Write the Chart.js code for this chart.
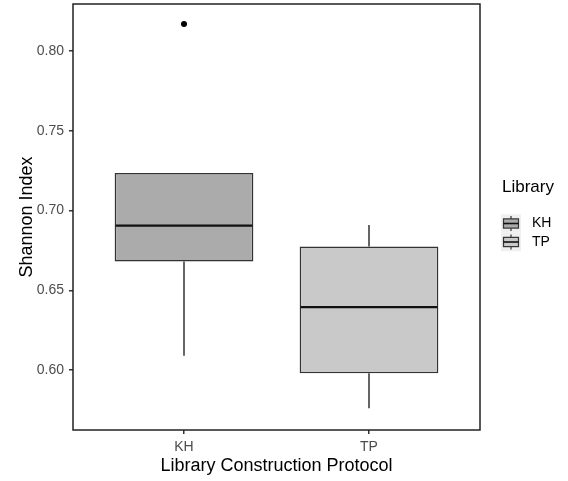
<!DOCTYPE html>
<html><head><meta charset="utf-8">
<script src="https://cdn.jsdelivr.net/npm/chart.js@4"></script>
<style>html,body{margin:0;padding:0;background:#fff}#wrap{width:568px;height:481px}</style>
</head><body><div id="wrap"><canvas id="c" width="568" height="481"></canvas></div>
<script>
// ---- data ----
const categories = ['KH', 'TP'];
const whiskerLow = [0.609, 0.576];
const q1 = [0.668, 0.598];
const median = [0.6905, 0.6395];
const q3 = [0.7235, 0.6775];
const whiskerHigh = [0.7235, 0.691];
const outlierCategory = ['KH'];
const outlierValue = [0.817];
const yTicks = [0.60, 0.65, 0.70, 0.75, 0.80];
const yMin = 0.5624, yMax = 0.8295;
const fills = ['#ababab', '#c9c9c9'];
const FONT = "'Liberation Sans', Arial, sans-serif";

Chart.defaults.font.family = FONT;

const boxPlugin = {
  id: 'boxExtras',
  afterDatasetsDraw(chart) {
    const { ctx, scales: { x, y } } = chart;
    const meta = chart.getDatasetMeta(0);
    ctx.save();
    categories.forEach((c, i) => {
      const bar = meta.data[i];
      const cx = x.getPixelForValue(i + 1);
      const half = bar.width / 2;
      ctx.strokeStyle = '#333'; ctx.lineWidth = 1.5;
      ctx.beginPath();
      ctx.moveTo(cx, y.getPixelForValue(q3[i])); ctx.lineTo(cx, y.getPixelForValue(whiskerHigh[i]));
      ctx.moveTo(cx, y.getPixelForValue(q1[i])); ctx.lineTo(cx, y.getPixelForValue(whiskerLow[i]));
      ctx.stroke();
      const ym = y.getPixelForValue(median[i]);
      ctx.strokeStyle = '#111'; ctx.lineWidth = 2.2;
      ctx.beginPath(); ctx.moveTo(cx - half + 1, ym); ctx.lineTo(cx + half - 1, ym); ctx.stroke();
    });
    ctx.restore();
  },
  afterDraw(chart) {
    const { ctx, chartArea: a } = chart;
    ctx.save();
    ctx.strokeStyle = '#222'; ctx.lineWidth = 1.5;
    ctx.strokeRect(a.left, a.top, a.right - a.left, a.bottom - a.top);
    // legend
    ctx.fillStyle = '#000'; ctx.textAlign = 'left'; ctx.textBaseline = 'middle';
    ctx.font = '17px ' + FONT;
    ctx.fillText('Library', 502, 187.5);
    categories.forEach((c, i) => {
      const cy = 223.5 + i * 18.5, kx = 501, kw = 20, kh = 18.5;
      ctx.fillStyle = '#efefef'; ctx.fillRect(kx, cy - kh / 2, kw, kh);
      const cx = kx + kw / 2, bx = kx + kw * 0.125, bw = kw * 0.75;
      const top = cy - kh / 2, bh = kh * 0.5;
      ctx.strokeStyle = '#333'; ctx.lineWidth = 1.2;
      ctx.beginPath();
      ctx.moveTo(cx, top + kh * 0.1); ctx.lineTo(cx, top + kh * 0.25);
      ctx.moveTo(cx, top + kh * 0.75); ctx.lineTo(cx, top + kh * 0.9);
      ctx.stroke();
      ctx.fillStyle = fills[i]; ctx.fillRect(bx, top + kh * 0.25, bw, bh);
      ctx.strokeRect(bx, top + kh * 0.25, bw, bh);
      ctx.lineWidth = 1.6; ctx.strokeStyle = '#111';
      ctx.beginPath(); ctx.moveTo(bx, cy); ctx.lineTo(bx + bw, cy); ctx.stroke();
      ctx.fillStyle = '#000'; ctx.font = '14px ' + FONT;
      ctx.fillText(c, 532, cy);
    });
    ctx.restore();
  }
};

new Chart(document.getElementById('c'), {
  type: 'bar',
  data: {
    datasets: [
      {
        type: 'bar',
        data: categories.map((c, i) => ({ x: i + 1, y: [q1[i], q3[i]] })),
        backgroundColor: fills,
        borderColor: '#333',
        borderWidth: 1.5,
        borderSkipped: false,
        barPercentage: 0.75,
        categoryPercentage: 1
      },
      {
        type: 'scatter',
        data: outlierValue.map((v, i) => ({ x: categories.indexOf(outlierCategory[i]) + 1, y: v })),
        backgroundColor: '#000',
        borderColor: '#000',
        pointRadius: 3,
        borderWidth: 0
      }
    ]
  },
  plugins: [boxPlugin],
  options: {
    responsive: false,
    animation: false,
    layout: { padding: { top: 4, right: 88, left: 0, bottom: 0 } },
    plugins: { legend: { display: false }, tooltip: { enabled: false } },
    scales: {
      x: {
        type: 'linear', min: 0.4, max: 2.6, offset: false,
        afterBuildTicks: s => { s.ticks = categories.map((c, i) => ({ value: i + 1 })); },
        afterFit: s => { s.height = 51; s.paddingLeft = 0; s.paddingRight = 0; },
        ticks: { callback: v => categories[v - 1], color: '#4d4d4d', font: { size: 14 }, padding: 5, maxRotation: 0 },
        grid: { offset: false, drawOnChartArea: false, drawTicks: true, tickLength: 4, color: '#333', lineWidth: 1.5 },
        border: { display: false },
        title: { display: true, text: 'Library Construction Protocol', color: '#000', font: { size: 18 }, padding: { top: 0, bottom: 4 } }
      },
      y: {
        type: 'linear', min: yMin, max: yMax,
        afterBuildTicks: s => { s.ticks = yTicks.map(v => ({ value: v })); },
        afterFit: s => { s.width = 73; s.paddingTop = 0; s.paddingBottom = 0; },
        ticks: { callback: v => v.toFixed(2), color: '#4d4d4d', font: { size: 14 }, padding: 5 },
        grid: { drawOnChartArea: false, drawTicks: true, tickLength: 4, color: '#333', lineWidth: 1.5 },
        border: { display: false },
        title: { display: true, text: 'Shannon Index', color: '#000', font: { size: 18 }, padding: { top: 16, bottom: 0 } }
      }
    }
  }
});
</script></body></html>
